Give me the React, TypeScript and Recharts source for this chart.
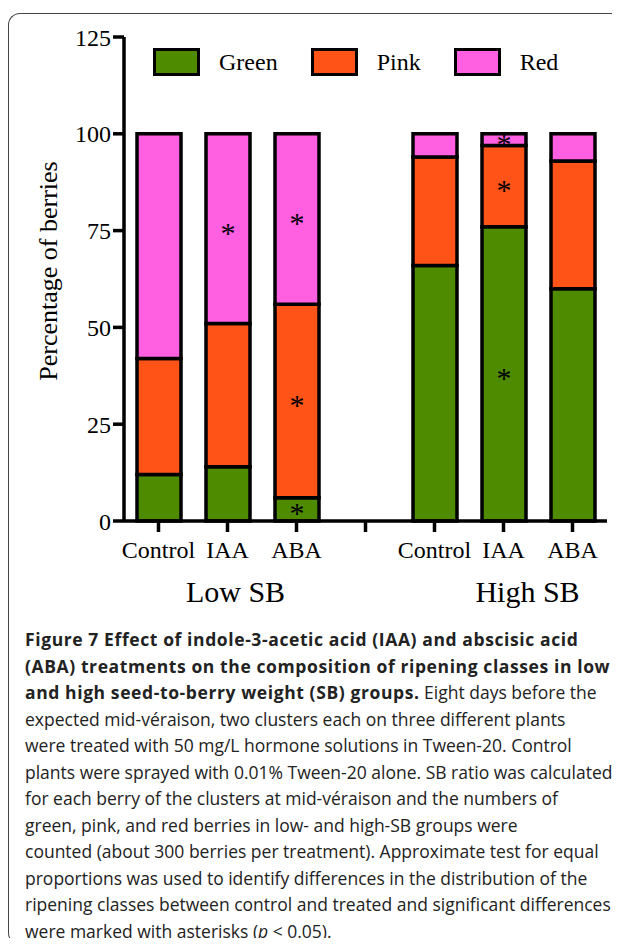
import React from 'react';
import { BarChart, Bar, XAxis, YAxis, Legend, LabelList } from 'recharts';

// treatments, in plot order (blank slot separates the two SB groups)
const categories = ['Control', 'IAA', 'ABA', '', 'Control', 'IAA', 'ABA'];
const greenPct = [12, 14, 6, null, 66, 76, 60];
const pinkPct = [30, 37, 50, null, 28, 21, 33];
const redPct = [58, 49, 44, null, 6, 3, 7];

// asterisks (p < 0.05 vs control)
const greenSig = [false, false, true, false, false, true, false];
const pinkSig = [false, false, true, false, false, true, false];
const redSig = [false, true, true, false, false, true, false];

const groupLabels = ['Low SB', 'High SB'];
const groupTickIndex = [1, 5];
const yTicks = [0, 25, 50, 75, 100, 125];

const COLORS = {
  Green: '#4e8b00',
  Pink: '#ff5318',
  Red: '#ff5fe0',
};

const SERIF = '"Liberation Serif", "Times New Roman", serif';
const SANS = '"Open Sans", "Noto Sans", sans-serif';

const chartData = categories.map((name, i) => ({
  id: String(i),
  name,
  Green: greenPct[i] ?? undefined,
  Pink: pinkPct[i] ?? undefined,
  Red: redPct[i] ?? undefined,
  GreenStar: greenSig[i] ? '*' : '',
  PinkStar: pinkSig[i] ? '*' : '',
  RedStar: redSig[i] ? '*' : '',
}));

const groupDx = [8, 24];

const XTick = (props: any) => {
  const { x, y, index } = props;
  const g = groupTickIndex.indexOf(index);
  return (
    <g>
      <text x={x} y={y} dy={24} textAnchor="middle" fontFamily={SERIF} fontSize={24} fill="#000">
        {categories[index]}
      </text>
      {g >= 0 && (
        <text x={x + groupDx[g]} y={y} dy={68} textAnchor="middle" fontFamily={SERIF} fontSize={30} fill="#000">
          {groupLabels[g]}
        </text>
      )}
    </g>
  );
};

const Star = (props: any) => {
  const { x, y, width, height, value } = props;
  if (!value) return null;
  return (
    <text x={x + width / 2} y={y + height / 2} dy={14} textAnchor="middle" fontFamily={SERIF} fontSize={30} fill="#000">
      {value}
    </text>
  );
};

const LegendContent = () => (
  <div style={{ display: 'flex', alignItems: 'center', fontFamily: SERIF, fontSize: 24, color: '#000' }}>
    {(['Green', 'Pink', 'Red'] as const).map((k) => (
      <div key={k} style={{ display: 'flex', alignItems: 'center', marginRight: 33 }}>
        <div
          style={{
            width: 47,
            height: 28,
            boxSizing: 'border-box',
            border: '3.5px solid #000',
            background: COLORS[k],
            marginRight: 19,
          }}
        />
        <span>{k}</span>
      </div>
    ))}
  </div>
);

const YLabel = (props: any) => {
  const vb = props.viewBox || {};
  const cy = vb.y + vb.height / 2 - 8;
  return (
    <text
      x={57}
      y={cy}
      transform={`rotate(-90 57 ${cy})`}
      textAnchor="middle"
      fontFamily={SERIF}
      fontSize={26}
      fill="#000"
    >
      Percentage of berries
    </text>
  );
};

const bold = { fontWeight: 700, letterSpacing: 0.6 };

export default function App() {
  const barProps = { stackId: 'a', stroke: '#000', strokeWidth: 3.5, isAnimationActive: false };
  return (
    <div style={{ position: 'relative', width: 604, height: 930 }}>
      <div
        style={{
          position: 'absolute',
          left: 0,
          top: 5,
          width: 612,
          height: 932,
          boxSizing: 'border-box',
          border: '1.5px solid #444',
          borderRight: 'none',
          borderRadius: '12px 0 0 12px',
        }}
      />
      <div style={{ position: 'absolute', left: -8, top: -8 }}>
        <BarChart
          width={620}
          height={620}
          data={chartData}
          margin={{ top: 37, right: 13, bottom: 9, left: 64 }}
          barSize={44}
        >
          <XAxis
            dataKey="id"
            height={90}
            axisLine={{ stroke: '#000', strokeWidth: 3.5 }}
            tickLine={{ stroke: '#000', strokeWidth: 3.5 }}
            tickSize={11}
            tick={<XTick />}
            interval={0}
          />
          <YAxis
            width={60}
            domain={[0, 125]}
            ticks={yTicks}
            interval={0}
            axisLine={{ stroke: '#000', strokeWidth: 3.5 }}
            tickLine={{ stroke: '#000', strokeWidth: 3.5 }}
            tickSize={11}
            tick={{ fill: '#000', fontSize: 24, fontFamily: SERIF }}
            label={<YLabel />}
          />
          <Legend
            layout="horizontal"
            verticalAlign="middle"
            align="center"
            content={<LegendContent />}
            wrapperStyle={{ top: 48, left: 153, width: 460, height: 30 }}
          />
          <Bar dataKey="Green" fill={COLORS.Green} {...barProps}>
            <LabelList dataKey="GreenStar" content={<Star />} />
          </Bar>
          <Bar dataKey="Pink" fill={COLORS.Pink} {...barProps}>
            <LabelList dataKey="PinkStar" content={<Star />} />
          </Bar>
          <Bar dataKey="Red" fill={COLORS.Red} {...barProps}>
            <LabelList dataKey="RedStar" content={<Star />} />
          </Bar>
        </BarChart>
      </div>
      <div
        style={{
          position: 'absolute',
          left: 17,
          top: 618,
          fontFamily: SANS,
          fontSize: 17.5,
          lineHeight: '26.5px',
          color: '#222',
          whiteSpace: 'nowrap',
        }}
      >
        <span style={bold}>Figure 7 Effect of indole-3-acetic acid (IAA) and abscisic acid</span>
        <br />
        <span style={bold}>(ABA) treatments on the composition of ripening classes in low</span>
        <br />
        <span style={bold}>and high seed-to-berry weight (SB) groups.</span> Eight days before the
        <br />
        expected mid-véraison, two clusters each on three different plants
        <br />
        were treated with 50 mg/L hormone solutions in Tween-20. Control
        <br />
        plants were sprayed with 0.01% Tween-20 alone. SB ratio was calculated
        <br />
        for each berry of the clusters at mid-véraison and the numbers of
        <br />
        green, pink, and red berries in low- and high-SB groups were
        <br />
        counted (about 300 berries per treatment). Approximate test for equal
        <br />
        proportions was used to identify differences in the distribution of the
        <br />
        ripening classes between control and treated and significant differences
        <br />
        were marked with asterisks (<i>p</i> &lt; 0.05).
      </div>
    </div>
  );
}
